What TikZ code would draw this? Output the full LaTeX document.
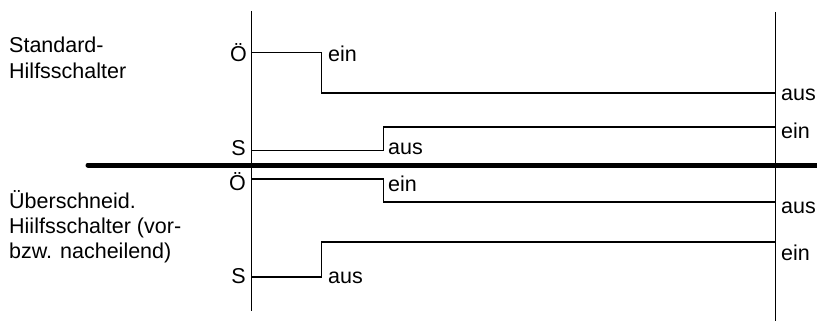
\documentclass[tikz,border=0pt]{standalone}
\usepackage{fontspec}
\setmainfont{Liberation Sans}
\usetikzlibrary{positioning}

\begin{document}
\begin{tikzpicture}[x=1pt, y=-1pt,
  lbl/.style={inner sep=0pt, font=\fontsize{21.5}{25}\selectfont},
  desc/.style={lbl, align=left, anchor=base west},
  axis/.style={line width=1.3pt},
  trace/.style={line width=1.2pt},
  sep/.style={line width=5pt, line cap=round}]
\useasboundingbox (0,0) rectangle (817,321);
\coordinate (axLt) at (251.5,11);
\coordinate (axLb) at (251.5,311);
\coordinate (axRt) at (775.3,12);
\coordinate (axRb) at (775.3,321);
\coordinate (sepL) at (88,165);
\coordinate (sepR) at (820,165);
\draw[axis] (axLt) -- (axLb);
\draw[axis] (axRt) -- (axRb);
\draw[sep] (sepL) -- (sepR);
\coordinate (oeA) at (251.5,52.7);
\coordinate (oeAend) at (775.3,93);
\coordinate (sA) at (251.5,150.7);
\coordinate (sAend) at (775.3,127);
\coordinate (oeB) at (251.5,179);
\coordinate (oeBend) at (775.3,202);
\coordinate (sB) at (251.5,277);
\coordinate (sBend) at (775.3,242);
\draw[trace] (oeA) -- ++(70,0) |- (oeAend);
\draw[trace] (sA) -- ++(132,0) |- (sAend);
\draw[trace] (oeB) -- ++(132,0) |- (oeBend);
\draw[trace] (sB) -- ++(70,0) |- (sBend);
\node[lbl, anchor=base east] (oeAlbl) at (247,62) {Ö};
\node[lbl, anchor=base west] (einA) at (328,62) {ein};
\node[lbl, anchor=base west] (ausAr) at (781,100) {aus};
\node[lbl, anchor=base east] (sAlbl) at (246,155) {S};
\node[lbl, anchor=base west] (ausA) at (388,154) {aus};
\node[lbl, anchor=base west] (einAr) at (781,138) {ein};
\node[lbl, anchor=base east] (oeBlbl) at (246,190) {Ö};
\node[lbl, anchor=base west] (einB) at (388,191) {ein};
\node[lbl, anchor=base west] (ausBr) at (781,213) {aus};
\node[lbl, anchor=base east] (sBlbl) at (246,283) {S};
\node[lbl, anchor=base west] (ausB) at (328,283) {aus};
\node[lbl, anchor=base west] (einBr) at (781,260) {ein};
\node[desc] (std) at (9,78) {Standard-\\Hilfsschalter};
\node[desc] (ovl) at (9,258) {Überschneid.\\Hiilfsschalter (vor-\\bzw. nacheilend)};
\end{tikzpicture}
\end{document}
